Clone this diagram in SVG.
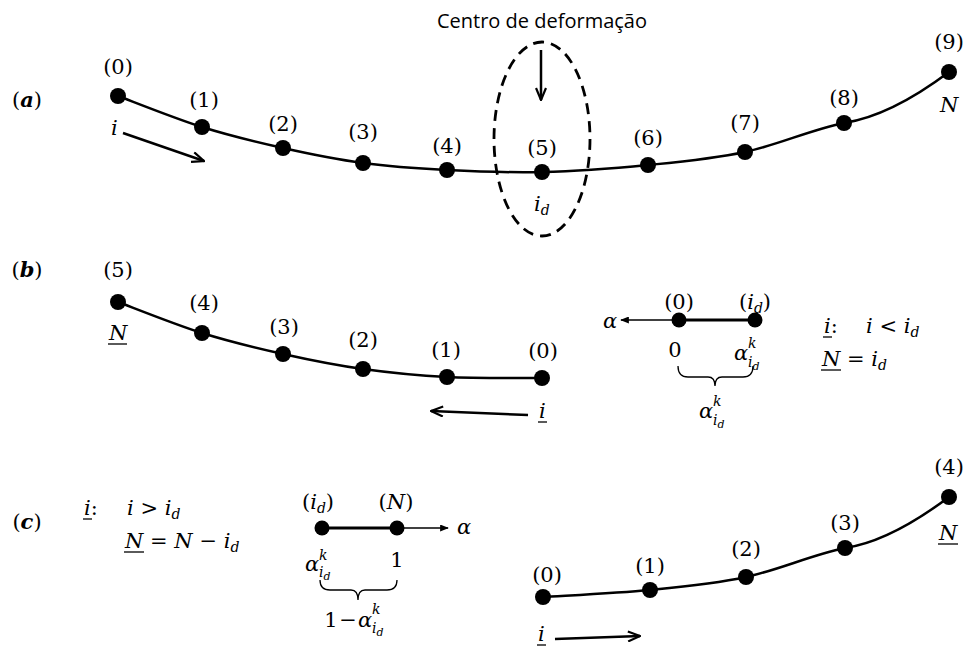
<svg xmlns="http://www.w3.org/2000/svg" width="965" height="655" viewBox="0 0 965 655">
<style>
.lbl{font-family:"DejaVu Serif",serif;font-size:21px;text-anchor:middle;fill:#000}
.m{font-family:"DejaVu Serif",serif;font-style:italic;font-size:21px;fill:#000}
.s{font-size:14px}
.sans{font-family:"Open Sans","Liberation Sans",sans-serif;font-size:20px;text-anchor:middle;fill:#000}
.nd{fill:#000}
.crv{fill:none;stroke:#000;stroke-width:2.5}
.thin{fill:none;stroke:#000;stroke-width:1.3}
.ul{stroke:#000;stroke-width:1.3}
</style>
<defs>
<marker id="chev" viewBox="0 0 14 12" refX="13" refY="6" markerWidth="14" markerHeight="12" markerUnits="userSpaceOnUse" orient="auto">
<path d="M1,1 L13,6 L1,11" fill="none" stroke="#000" stroke-width="2.2"/>
</marker>
<marker id="tri" viewBox="0 0 10 8" refX="9" refY="4" markerWidth="9" markerHeight="7" markerUnits="userSpaceOnUse" orient="auto">
<path d="M0,0 L10,4 L0,8 Z" fill="#000"/>
</marker>
</defs>

<!-- section labels -->
<text class="lbl" x="27" y="107">(<tspan font-weight="bold" font-style="italic">a</tspan>)</text>
<text class="lbl" x="27" y="277">(<tspan font-weight="bold" font-style="italic">b</tspan>)</text>
<text class="lbl" x="27" y="529">(<tspan font-weight="bold" font-style="italic">c</tspan>)</text>

<g id="connectors">
<path class="crv" d="M118,96 C132,101.2 174.5,118.3 202,127 C229.5,135.7 256.2,142 283,148 C309.8,154 335.7,159.3 363,163 C390.3,166.7 417.2,168.5 447,170 C476.8,171.5 508.5,172.8 542,172 C575.5,171.2 614.2,168.3 648,165 C681.8,161.7 712.3,159 745,152 C777.7,145 810,130 844,123 C870,119 905,105 949,72"/>
<line x1="123" y1="133" x2="204" y2="161" stroke="#000" stroke-width="2.5" marker-end="url(#chev)"/>
<ellipse cx="542" cy="139" rx="48" ry="97" fill="none" stroke="#000" stroke-width="2.8" stroke-dasharray="11,7"/>
<line x1="541" y1="50" x2="541" y2="100" stroke="#000" stroke-width="2.5" marker-end="url(#chev)"/>
<path class="crv" d="M118,302 C132,307.2 174.5,324.3 202,333 C229.5,341.7 256.2,348 283,354 C309.8,360 335.7,365.2 363,369 C390.3,372.8 417.2,375.5 447,377 C476.8,378.5 526.2,377.8 542,378"/>
<line x1="528" y1="415" x2="431" y2="411" stroke="#000" stroke-width="2.5" marker-end="url(#chev)"/>
<line x1="755" y1="320" x2="679" y2="320" stroke="#000" stroke-width="3"/>
<line x1="679" y1="320" x2="621" y2="320" stroke="#000" stroke-width="1.5" marker-end="url(#tri)"/>
<path class="thin" d="M678,366 Q678,377 688,377 H708 Q715,377 715,386 Q715,377 722,377 H743 Q753,377 753,366"/>
<line x1="322" y1="528" x2="397" y2="528" stroke="#000" stroke-width="3"/>
<line x1="397" y1="528" x2="448" y2="528" stroke="#000" stroke-width="1.5" marker-end="url(#tri)"/>
<path class="thin" d="M320,580 Q320,590 330,590 H351 Q358,590 358,600 Q358,590 365,590 H387 Q397,590 397,580"/>
<path class="crv" d="M543,597 C560.8,595.8 616.2,593.3 650,590 C683.8,586.7 713.5,584 746,577 C778.5,570 811.2,555 845,548 C872,544 905,530 949,497"/>
<line x1="555" y1="639" x2="640" y2="636" stroke="#000" stroke-width="2.5" marker-end="url(#chev)"/>
</g>

<!-- part a -->
<text class="sans" x="542" y="28">Centro de deformação</text>
<text class="m" x="111" y="135">i</text>
<g id="a0"><circle class="nd" cx="118" cy="96" r="8"/><text class="lbl" x="118" y="74">(0)</text></g>
<g id="a1"><circle class="nd" cx="202" cy="127" r="8"/><text class="lbl" x="204" y="107">(1)</text></g>
<g id="a2"><circle class="nd" cx="283" cy="148" r="8"/><text class="lbl" x="283" y="131">(2)</text></g>
<g id="a3"><circle class="nd" cx="363" cy="163" r="8"/><text class="lbl" x="363" y="139">(3)</text></g>
<g id="a4"><circle class="nd" cx="447" cy="170" r="8"/><text class="lbl" x="447" y="153">(4)</text></g>
<g id="a5"><circle class="nd" cx="542" cy="172" r="8"/><text class="lbl" x="542" y="155">(5)</text>
<text class="m" x="534" y="211">i<tspan class="s" dy="4">d</tspan></text></g>
<g id="a6"><circle class="nd" cx="648" cy="165" r="8"/><text class="lbl" x="648" y="145">(6)</text></g>
<g id="a7"><circle class="nd" cx="745" cy="152" r="8"/><text class="lbl" x="745" y="130">(7)</text></g>
<g id="a8"><circle class="nd" cx="844" cy="123" r="8"/><text class="lbl" x="844" y="105">(8)</text></g>
<g id="a9"><circle class="nd" cx="949" cy="72" r="8"/><text class="lbl" x="949" y="49">(9)</text>
<text class="m" x="940" y="112">N</text></g>

<!-- part b -->
<g id="b5"><circle class="nd" cx="118" cy="302" r="8"/><text class="lbl" x="118" y="277">(5)</text>
<text class="m" x="109" y="340">N</text><line class="ul" x1="108" y1="344" x2="127" y2="344"/></g>
<g id="b4"><circle class="nd" cx="202" cy="333" r="8"/><text class="lbl" x="204" y="310">(4)</text></g>
<g id="b3"><circle class="nd" cx="283" cy="354" r="8"/><text class="lbl" x="284" y="334">(3)</text></g>
<g id="b2"><circle class="nd" cx="363" cy="369" r="8"/><text class="lbl" x="363" y="347">(2)</text></g>
<g id="b1"><circle class="nd" cx="447" cy="377" r="8"/><text class="lbl" x="446" y="357">(1)</text></g>
<g id="b0"><circle class="nd" cx="542" cy="378" r="8"/><text class="lbl" x="543" y="358">(0)</text>
<text class="m" x="539" y="418">i</text><line class="ul" x1="538" y1="422" x2="547" y2="422"/></g>

<!-- part b mini -->
<text class="m" x="603" y="328" font-size="18">α</text>
<g id="bm0"><circle class="nd" cx="679" cy="320" r="7.5"/><text class="lbl" x="679" y="309">(0)</text>
<text class="lbl" x="675" y="357">0</text></g>
<g id="bmid"><circle class="nd" cx="755" cy="320" r="7.5"/>
<text class="lbl" x="755" y="309">(<tspan font-style="italic">i</tspan><tspan font-style="italic" class="s" dy="4">d</tspan><tspan dy="-4">)</tspan></text>
<text class="m" x="734" y="360">α</text><text class="m s" x="748" y="348">k</text><text class="m s" x="748" y="367">i<tspan font-size="11" dy="3">d</tspan></text></g>
<g id="bspan"><text class="m" x="699" y="418">α</text><text class="m s" x="713" y="406">k</text><text class="m s" x="713" y="425">i<tspan font-size="11" dy="3">d</tspan></text></g>
<g id="bcond">
<text class="m" x="824" y="333">i<tspan font-style="normal">:</tspan></text><line class="ul" x1="823" y1="337" x2="832" y2="337"/>
<text class="m" x="866" y="333">i <tspan font-style="normal">&lt;</tspan> i<tspan class="s" dy="4">d</tspan></text>
<text class="m" x="822" y="366">N <tspan font-style="normal">=</tspan> i<tspan class="s" dy="4">d</tspan></text><line class="ul" x1="821" y1="370" x2="841" y2="370"/>
</g>

<!-- part c left -->
<g id="ccond">
<text class="m" x="84" y="515">i<tspan font-style="normal">:</tspan></text><line class="ul" x1="83" y1="519" x2="92" y2="519"/>
<text class="m" x="127" y="515">i <tspan font-style="normal">&gt;</tspan> i<tspan class="s" dy="4">d</tspan></text>
<text class="m" x="125" y="548">N <tspan font-style="normal">=</tspan> N <tspan font-style="normal">−</tspan> i<tspan class="s" dy="4">d</tspan></text><line class="ul" x1="124" y1="552" x2="144" y2="552"/>
</g>
<text class="m" x="457" y="534" font-size="16">α</text>
<g id="cmid"><circle class="nd" cx="322" cy="528" r="7.5"/>
<text class="lbl" x="318" y="509">(<tspan font-style="italic">i</tspan><tspan font-style="italic" class="s" dy="4">d</tspan><tspan dy="-4">)</tspan></text>
<text class="m" x="305" y="571">α</text><text class="m s" x="319" y="560">k</text><text class="m s" x="319" y="577">i<tspan font-size="11" dy="3">d</tspan></text></g>
<g id="cmN"><circle class="nd" cx="397" cy="528" r="7.5"/>
<text class="lbl" x="396" y="509">(<tspan font-style="italic">N</tspan>)</text>
<text class="lbl" x="397" y="567">1</text></g>
<g id="cspan"><text class="lbl" x="331" y="627">1</text><text class="lbl" x="348" y="627">−</text>
<text class="m" x="358" y="627">α</text><text class="m s" x="372" y="614">k</text><text class="m s" x="372" y="633">i<tspan font-size="11" dy="3">d</tspan></text></g>

<!-- part c right -->
<g id="c0"><circle class="nd" cx="543" cy="597" r="8"/><text class="lbl" x="547" y="582">(0)</text>
<text class="m" x="538" y="641">i</text><line class="ul" x1="537" y1="645" x2="546" y2="645"/></g>
<g id="c1"><circle class="nd" cx="650" cy="590" r="8"/><text class="lbl" x="650" y="573">(1)</text></g>
<g id="c2"><circle class="nd" cx="746" cy="577" r="8"/><text class="lbl" x="746" y="556">(2)</text></g>
<g id="c3"><circle class="nd" cx="845" cy="548" r="8"/><text class="lbl" x="845" y="530">(3)</text></g>
<g id="c4"><circle class="nd" cx="949" cy="497" r="8"/><text class="lbl" x="949" y="474">(4)</text>
<text class="m" x="939" y="540">N</text><line class="ul" x1="938" y1="544" x2="958" y2="544"/></g>
</svg>
